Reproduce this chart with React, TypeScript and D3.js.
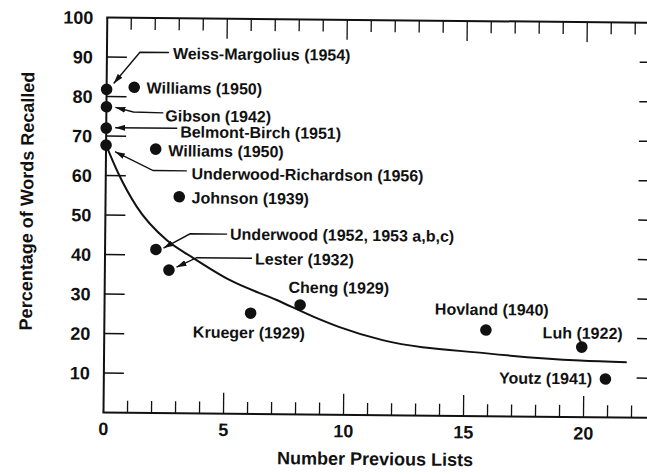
import React from 'react';
import * as d3 from 'd3';

// ---- data ----
const studies = [
  'Weiss-Margolius (1954)',
  'Williams (1950)',
  'Gibson (1942)',
  'Belmont-Birch (1951)',
  'Williams (1950)',
  'Underwood-Richardson (1956)',
  'Johnson (1939)',
  'Underwood (1952, 1953 a,b,c)',
  'Lester (1932)',
  'Krueger (1929)',
  'Cheng (1929)',
  'Hovland (1940)',
  'Luh (1922)',
  'Youtz (1941)',
];
const previousLists = [0, 1.15, 0, 0, 2.07, 0, 3.07, 2.12, 2.67, 6.09, 8.15, 15.9, 19.9, 20.9];
const percentRecalled = [81.8, 82.4, 77.4, 72.0, 66.8, 67.7, 54.8, 41.4, 36.2, 25.5, 27.7, 21.8, 17.7, 9.7];

// fitted curve
const curveX = [0, 0.52, 1.3, 2.56, 3.61, 5.22, 7.17, 8.7, 9.8, 11.6, 15.95, 19.83, 21.78];
const curveY = [67.7, 60.6, 52.2, 43.8, 39.6, 33.8, 28.9, 24.8, 22.2, 19.0, 15.9, 14.3, 14.0];

const xTickLabels = [0, 5, 10, 15, 20];
const yTickLabels = [10, 20, 30, 40, 50, 60, 70, 80, 90, 100];
const xMinorTicks = d3.range(1, 23);
const xTitle = 'Number Previous Lists';
const yTitle = 'Percentage of Words Recalled';

// ---- layout (pixel offsets of labels relative to their dot) ----
type Lay = { dx: number; dy: number; anchor?: string; leader?: number[][] };
const labelLayout: Lay[] = [
  { dx: 66, dy: -31, leader: [[62, -37.5], [33, -37.5], [7, -6]] },
  { dx: 12.4, dy: 6 },
  { dx: 59, dy: 14, leader: [[57, 5.5], [27, 5], [9, 0.5]] },
  { dx: 74, dy: 8.6, leader: [[71, -0.5], [9, -0.5]] },
  { dx: 12.6, dy: 7 },
  { dx: 85.7, dy: 33.3, leader: [[81, 25], [47.3, 25], [9, 6.5]] },
  { dx: 12.4, dy: 6.5 },
  { dx: 74, dy: -10.5, leader: [[71, -16], [34, -16], [7.5, -1.5]] },
  { dx: 86, dy: -6.5, leader: [[83, -12.7], [27.7, -12.7], [7.5, -3]] },
  { dx: -1.5, dy: 25, anchor: 'middle' },
  { dx: -11.7, dy: -12 },
  { dx: 5.7, dy: -15, anchor: 'middle' },
  { dx: 0.8, dy: -8.5, anchor: 'middle' },
  { dx: -13.3, dy: 5.5, anchor: 'end' },
];

const W = 647;
const H = 474;
const X0 = 103.5;
const Y0 = 412.5;
const TILT = 0.55;
const FONT = "'Liberation Sans', Arial, Helvetica, sans-serif";

export default function App() {
  const x = d3.scaleLinear().domain([0, 20]).range([X0, 583.5]);
  const y = d3.scaleLinear().domain([0, 100]).range([Y0, 17.5]);

  const curvePts: [number, number][] = curveX.map((cx, i) => [x(cx), y(curveY[i])]);
  const curvePath = d3.line().curve(d3.curveMonotoneX)(curvePts) || '';
  const lineGen = d3.line();

  const xEnd = x(24);
  const xRightTick = x(22.2);

  return (
    <svg
      width={W}
      height={H}
      style={{ position: 'absolute', left: 0, top: 0, background: '#fff' }}
      fontFamily={FONT}
    >
      <defs>
        <marker
          id="arrowHead"
          viewBox="0 0 10 6"
          refX={10}
          refY={3}
          markerWidth={10}
          markerHeight={6}
          markerUnits="userSpaceOnUse"
          orient="auto"
        >
          <path d="M0,0 L10,3 L0,6 Z" fill="#111" />
        </marker>
      </defs>
      <rect width={W} height={H} fill="#fff" />
      <g transform={`rotate(${TILT} ${X0} ${Y0})`} stroke="#111" fill="none">
        {/* axis lines */}
        <line x1={X0} y1={y(0)} x2={X0} y2={y(100)} strokeWidth={2} />
        <line x1={X0 - 1} y1={y(0)} x2={xEnd} y2={y(0)} strokeWidth={2} />
        <line x1={X0 - 1} y1={y(100)} x2={xEnd} y2={y(100)} strokeWidth={2} />

        {/* left and right y ticks */}
        {yTickLabels.filter((v) => v < 100).map((v) => (
          <g key={'yt' + v}>
            <line x1={X0} x2={X0 + 20} y1={y(v)} y2={y(v)} strokeWidth={1.5} />
            <line x1={xRightTick} x2={xEnd} y1={y(v)} y2={y(v)} strokeWidth={1.5} />
          </g>
        ))}

        {/* bottom and top x ticks */}
        {xMinorTicks.map((v) => {
          const major = v % 5 === 0;
          return (
            <g key={'xt' + v}>
              <line x1={x(v)} x2={x(v)} y1={y(0)} y2={y(0) - (major ? 21 : 12)} strokeWidth={1.3} />
              <line x1={x(v)} x2={x(v)} y1={y(100)} y2={y(100) + (major ? 20 : 12)} strokeWidth={1.3} />
            </g>
          );
        })}

        {/* fitted curve */}
        <path d={curvePath} strokeWidth={2} />

        {/* leaders */}
        {labelLayout.map((l, i) =>
          l.leader ? (
            <path
              key={'ld' + i}
              d={lineGen(l.leader.map(([dx, dy]) => [x(previousLists[i]) + dx, y(percentRecalled[i]) + dy]) as [number, number][]) || ''}
              strokeWidth={1.4}
              markerEnd="url(#arrowHead)"
            />
          ) : null
        )}

        {/* dots */}
        {previousLists.map((v, i) => (
          <circle key={'pt' + i} cx={x(v)} cy={y(percentRecalled[i])} r={5.8} fill="#111" stroke="none" />
        ))}

        {/* labels */}
        <g fill="#111" stroke="none" fontWeight={700}>
          {studies.map((s, i) => (
            <text
              key={'lb' + i}
              x={x(previousLists[i]) + labelLayout[i].dx}
              y={y(percentRecalled[i]) + labelLayout[i].dy}
              textAnchor={labelLayout[i].anchor || 'start'}
              fontSize={16}
            >
              {s}
            </text>
          ))}

          {yTickLabels.map((v) => (
            <text key={'yl' + v} x={X0 - 14} y={y(v)} dy="0.36em" textAnchor="end" fontSize={18}>
              {v}
            </text>
          ))}
          {xTickLabels.map((v) => (
            <text key={'xl' + v} x={x(v)} y={Y0 + 22.5} textAnchor="middle" fontSize={18}>
              {v}
            </text>
          ))}
          <text x={375.5} y={Y0 + 50} textAnchor="middle" fontSize={18}>
            {xTitle}
          </text>
          <text transform={`translate(31 ${201.7}) rotate(-90)`} textAnchor="middle" fontSize={18}>
            {yTitle}
          </text>
        </g>
      </g>
    </svg>
  );
}
